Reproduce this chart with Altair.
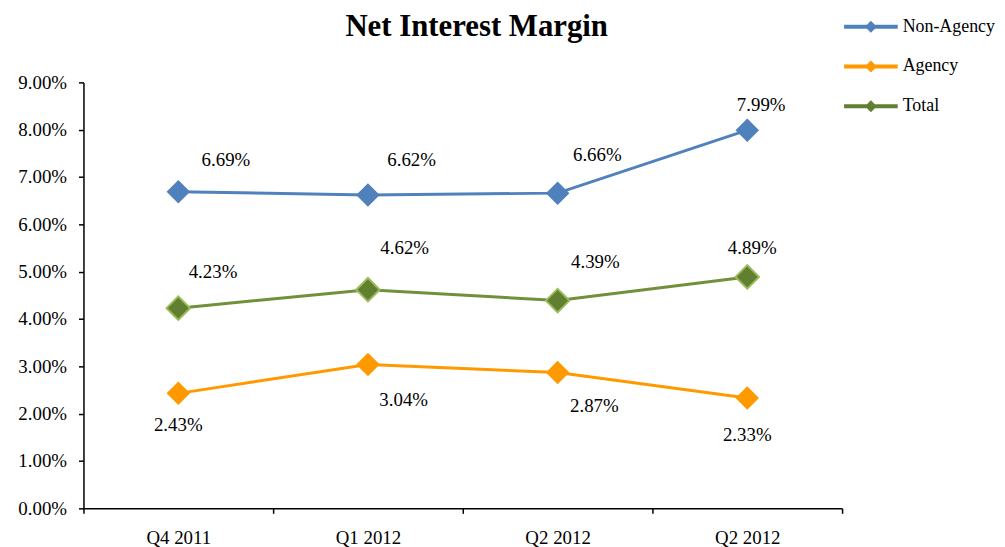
import altair as alt
import pandas as pd

categories = ["Q4 2011", "Q1 2012", "Q2 2012", "Q2 2012"]
series_names = ["Non-Agency", "Agency", "Total"]
non_agency = [6.69, 6.62, 6.66, 7.99]
agency = [2.43, 3.04, 2.87, 2.33]
total = [4.23, 4.62, 4.39, 4.89]
y_ticks = [0, 1, 2, 3, 4, 5, 6, 7, 8, 9]

colors = ["#4F81BD", "#FF9900", "#71903A"]
point_fill = ["#4F81BD", "#FF9900", "#617F30"]
total_outline = "#9BBB59"

label_offsets = {
    "Non-Agency": [(48, -32), (44, -35), (40, -38), (14, -25)],
    "Total": [(35, -36), (37, -42), (38, -39), (5, -29)],
    "Agency": [(0, 32), (36, 36), (37, 34), (0, 37)],
}

rows = []
for name, vals in zip(series_names, [non_agency, agency, total]):
    for i, v in enumerate(vals):
        rows.append({"series": name, "idx": i, "pos": i + 0.5, "value": v})
df = pd.DataFrame(rows)

FONT = "Liberation Serif"

label_expr = " : ".join(
    [f"datum.value == {i + 0.5} ? '{c}'" for i, c in enumerate(categories)]
) + " : ''"

x_enc = alt.X(
    "pos:Q",
    scale=alt.Scale(domain=[0, len(categories)], nice=False, zero=False),
    axis=alt.Axis(
        values=[k * 0.5 for k in range(2 * len(categories) + 1)],
        labelExpr=label_expr,
        tickOpacity={"condition": {"test": "datum.value % 1 != 0", "value": 0}, "value": 1},
        title=None, grid=False, tickSize=5, tickWidth=1.5, tickColor="black",
        domainColor="black", domainWidth=1.5, labelPadding=15,
        labelFont=FONT, labelFontSize=19, labelColor="black",
        labelOverlap=False, labelFlush=False,
    ),
)
y_enc = alt.Y(
    "value:Q",
    scale=alt.Scale(domain=[0, 9], nice=False),
    axis=alt.Axis(
        values=y_ticks,
        labelExpr="format(datum.value, '.2f') + '%'",
        title=None, grid=False, tickSize=5, tickWidth=1.5, tickColor="black",
        domainColor="black", domainWidth=1.5, labelPadding=12,
        labelFont=FONT, labelFontSize=19, labelColor="black",
    ),
)

legend_path = "M-2.7,-0.2L2.7,-0.2L2.7,0.2L-2.7,0.2Z M0,-0.6L0.6,0L0,0.6L-0.6,0Z"
legend = alt.Legend(
    title=None,
    orient="none",
    legendX=783,
    legendY=-66,
    symbolType=legend_path,
    symbolSize=400,
    symbolStrokeWidth=0,
    symbolOpacity=1,
    labelFont=FONT,
    labelFontSize=18,
    labelColor="black",
    labelOffset=22,
    rowPadding=21,
)

base = alt.Chart(df)

lines = base.mark_line(strokeWidth=3).encode(
    x=x_enc, y=y_enc,
    color=alt.Color("series:N", scale=alt.Scale(domain=series_names, range=colors), legend=legend),
    detail="series:N",
)

points = base.mark_point(shape="diamond", filled=True, size=560, opacity=1).encode(
    x=x_enc, y=y_enc,
    fill=alt.Fill(
        "series:N",
        scale=alt.Scale(domain=series_names, range=point_fill),
        legend=legend,
    ),
)

total_outline_layer = base.transform_filter("datum.series == 'Total'").mark_point(
    shape="diamond", filled=False, size=560, stroke=total_outline, strokeWidth=2, opacity=1
).encode(x=x_enc, y=y_enc)

layers = [lines, points, total_outline_layer]
for name in series_names:
    for i, (dx, dy) in enumerate(label_offsets[name]):
        layers.append(
            base.transform_filter(
                f"datum.series == '{name}' && datum.idx == {i}"
            ).transform_calculate(
                label="format(datum.value, '.2f') + '%'"
            ).mark_text(
                dx=dx, dy=dy, align="center", baseline="middle",
                font=FONT, fontSize=19, color="black",
            ).encode(x=x_enc, y=y_enc, text="label:N")
        )

chart = alt.layer(*layers).properties(
    width=764,
    height=429,
    autosize=alt.AutoSizeParams(type="none"),
    padding={"left": 76, "top": 73, "right": 156, "bottom": 37},
    background="white",
    title=alt.TitleParams(
        "Net Interest Margin", font=FONT, fontSize=31, fontWeight="bold",
        color="black", anchor="middle", dx=14, offset=-26,
    ),
).configure_view(stroke=None)

chart.save("out.html", embed_options={"renderer": "svg", "actions": False})
